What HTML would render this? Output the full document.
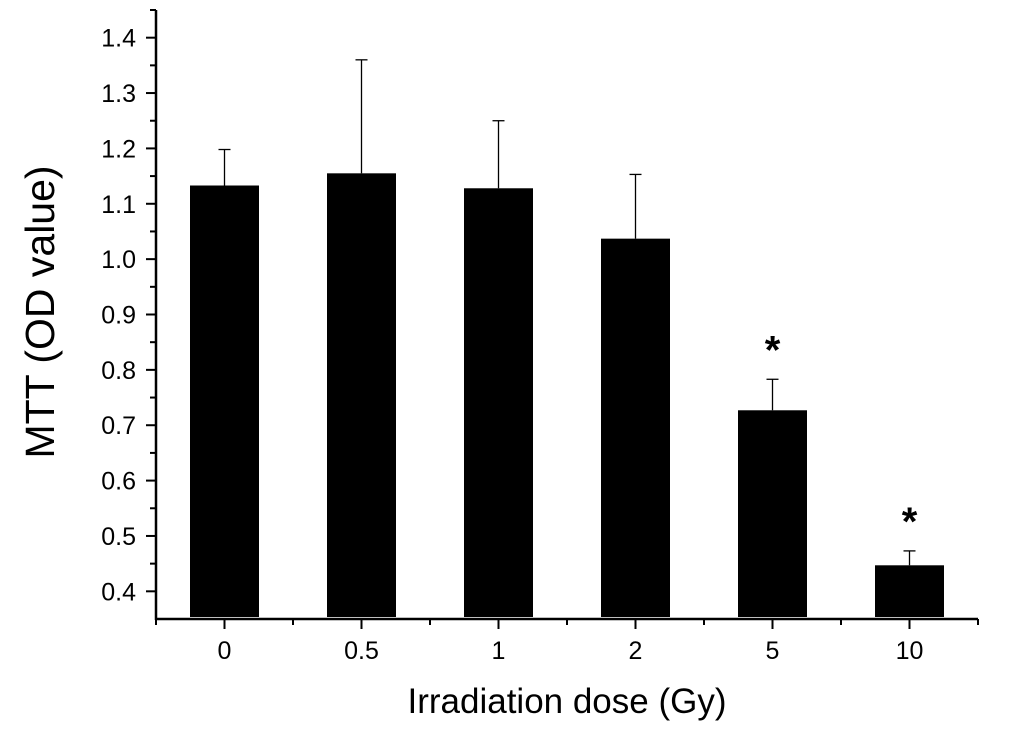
<!DOCTYPE html>
<html><head><meta charset="utf-8"><style>
body{margin:0;background:#fff;}
svg text{font-family:"Liberation Sans",Arial,sans-serif;fill:#000;}
</style></head><body>
<svg id="chart" width="1033" height="728">
<g id="marks"></g>
<g id="axes"></g>
<text x="54" y="312" font-size="41" text-anchor="middle" transform="rotate(-90 54 312)">MTT (OD value)</text>
<text x="567" y="713" font-size="35" text-anchor="middle">Irradiation dose (Gy)</text>
</svg>
<script>
const categories = ["0","0.5","1","2","5","10"];
const means = [1.133,1.155,1.128,1.037,0.727,0.447];
const errTops = [1.198,1.36,1.25,1.153,0.783,0.473];
const significant = [false,false,false,false,true,true];
const yTicks = [0.4,0.5,0.6,0.7,0.8,0.9,1.0,1.1,1.2,1.3,1.4];

const NS="http://www.w3.org/2000/svg";
const x0=156, band=137, yTop=10, yBot=619, vMin=0.35, vMax=1.45;
const y=v=>yBot-(v-vMin)/(vMax-vMin)*(yBot-yTop);
const xc=i=>x0+band/2+i*band;
function mk(tag,at,parent){const e=document.createElementNS(NS,tag);for(const k in at)e.setAttribute(k,at[k]);parent.appendChild(e);return e;}
const marks=document.getElementById('marks'), axes=document.getElementById('axes');
categories.forEach((c,i)=>{
  const cx=xc(i);
  const eb=mk('line',{x1:cx,x2:cx,y1:y(errTops[i]),y2:y(means[i]),stroke:'#000','stroke-width':1.3},marks);
  
  
  const cap=mk('line',{x1:cx-6,x2:cx+6,y1:y(errTops[i]),y2:y(errTops[i]),stroke:'#000','stroke-width':1.3},marks);
  
  
  const b=mk('rect',{x:cx-34.5,y:y(means[i]),width:69,height:yBot-2-y(means[i]),fill:'#000'},marks);
  
  
  if(significant[i]){
    const s=mk('text',{x:cx,y:y(errTops[i])-16,'font-size':40,'text-anchor':'middle','font-weight':'bold'},marks);
    s.textContent='*';
    
    
  }
  const t=mk('line',{x1:cx,x2:cx,y1:yBot,y2:yBot+10,stroke:'#000','stroke-width':2},axes);
  
  
  const l=mk('text',{x:cx,y:yBot+40,'font-size':25,'text-anchor':'middle'},axes);
  l.textContent=c;
  
  
});
for(let i=0;i<=categories.length;i++){
  const mx=x0+i*band;
  const t=mk('line',{x1:mx,x2:mx,y1:yBot,y2:yBot+6,stroke:'#000','stroke-width':2},axes);
  
  
}
yTicks.forEach(v=>{
  const t=mk('line',{x1:x0-10,x2:x0,y1:y(v),y2:y(v),stroke:'#000','stroke-width':2},axes);
  
  
  const m=mk('line',{x1:x0-6,x2:x0,y1:y(v+0.05),y2:y(v+0.05),stroke:'#000','stroke-width':2},axes);
  
  
  const l=mk('text',{x:x0-20,y:y(v)+9,'font-size':25,'text-anchor':'end'},axes);
  l.textContent=v.toFixed(1);
  
  
});
const ya=mk('line',{x1:x0,x2:x0,y1:yTop,y2:yBot+1,stroke:'#000','stroke-width':2.5},axes);


const xa=mk('line',{x1:x0-1,x2:x0+band*categories.length,y1:yBot,y2:yBot,stroke:'#000','stroke-width':2.5},axes);


</script>
</body></html>
